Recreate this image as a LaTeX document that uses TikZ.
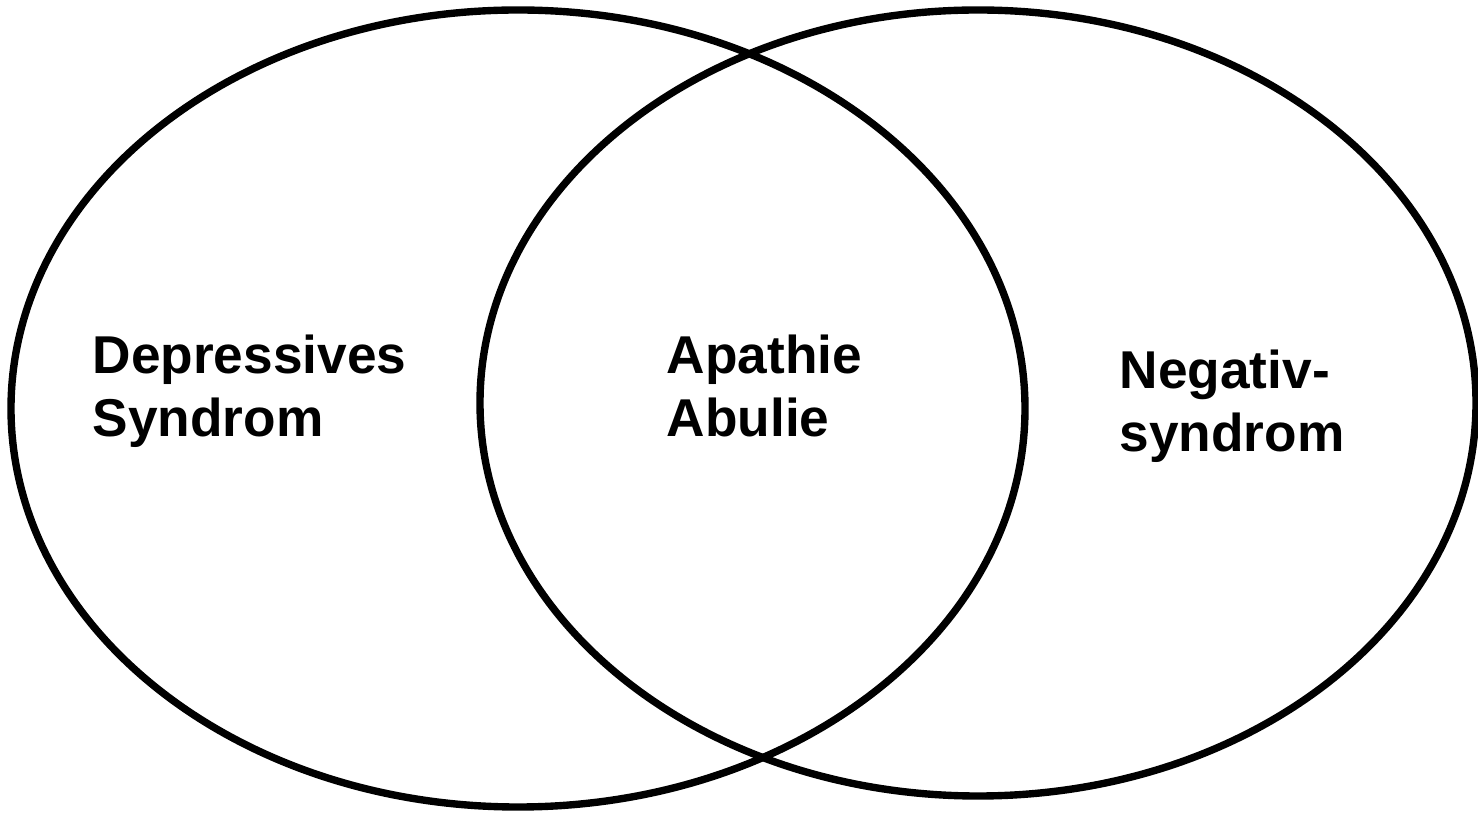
\documentclass[tikz,border=0pt]{standalone}
\usepackage{fontspec}
\setmainfont{Liberation Sans}
\begin{document}
\begin{tikzpicture}[line width=4.2pt,
    lbl/.style={anchor=base west,align=left,inner sep=0pt,font=\fontsize{30.3}{36}\selectfont\bfseries}]
            \useasboundingbox (0,0) rectangle (29.56,16.28);
            \draw (10.36,8.11) ellipse [x radius=10.14cm, y radius=7.97cm];
            \draw (19.56,8.22) ellipse [x radius=9.96cm, y radius=7.86cm];
            \node[lbl] at (1.78,7.54)(dep){Depressives\\Syndrom};
            \node[lbl] at (13.26,7.54)(apa){Apathie\\Abulie};
            \node[lbl] at (22.32,7.24)(neg){Negativ-\\syndrom};
        \end{tikzpicture}
\end{document}
